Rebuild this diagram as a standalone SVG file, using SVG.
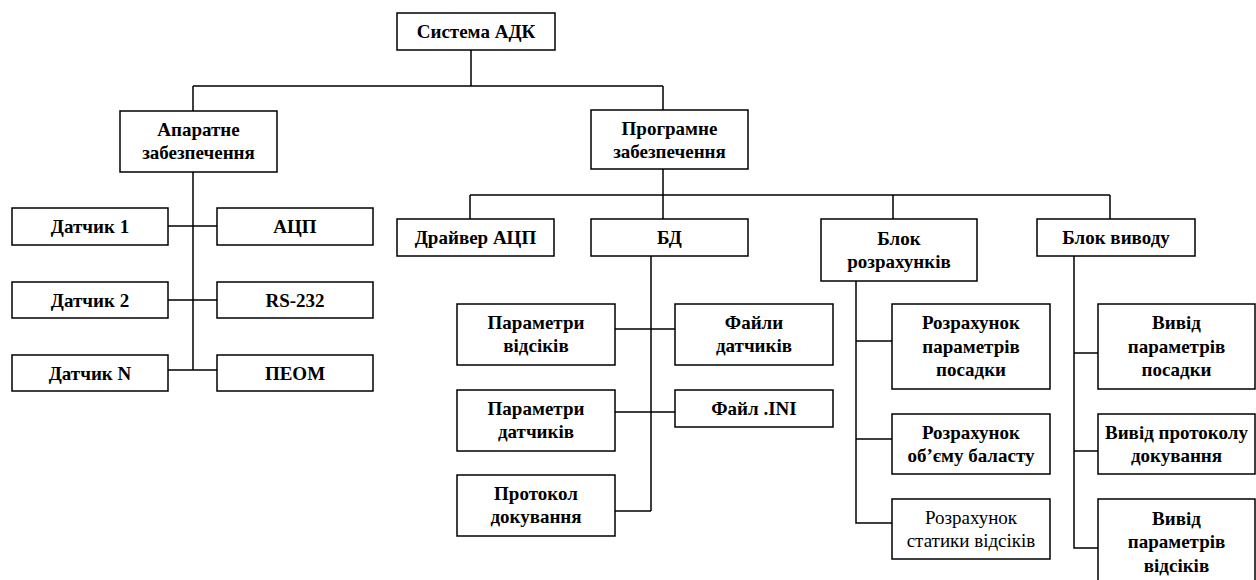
<svg xmlns="http://www.w3.org/2000/svg" width="1256" height="580" viewBox="0 0 1256 580">
<style>
rect{fill:#fff;stroke:#000;stroke-width:1.5}
text{font-family:"Liberation Serif","Times New Roman",serif;font-size:19px;font-weight:bold;text-anchor:middle;fill:#000}
text.r{font-weight:normal}
#connectors path{fill:none;stroke:#000;stroke-width:1.5}
</style>
<rect x="0" y="0" width="1256" height="580" style="stroke:none"/>
<g id="connectors">
<path d="M471 50V86M193 86H663M193 86V111M663 86V110"/>
<path d="M193 172V370M168 226H217M168 300H217M168 370H217"/>
<path d="M663 169V219M470 195H1110M470 195V219M893 195V219M1110 195V219"/>
<path d="M651 256V511M615 329H675M615 412H675M615 511H651"/>
<path d="M856 281V523H892M856 341H892M856 439H892"/>
<path d="M1074 256V548H1098M1074 353H1098M1074 451H1098"/>
</g>
<g id="n-system"><rect x="397" y="13" width="158" height="37"/><text x="476" y="38">Система АДК</text></g>
<g id="n-hw"><rect x="120" y="111" width="157" height="61"/><text x="198.5" y="136">Апаратне</text><text x="198.5" y="159">забезпечення</text></g>
<g id="n-sw"><rect x="591" y="110" width="157" height="59"/><text x="669.5" y="134.5">Програмне</text><text x="669.5" y="157.5">забезпечення</text></g>
<g id="n-d1"><rect x="12" y="208" width="156" height="37"/><text x="90" y="233">Датчик 1</text></g>
<g id="n-d2"><rect x="12" y="282" width="156" height="36"/><text x="90" y="306.5">Датчик 2</text></g>
<g id="n-dn"><rect x="12" y="355" width="156" height="36"/><text x="90" y="379.5">Датчик N</text></g>
<g id="n-adc"><rect x="217" y="208" width="156" height="37"/><text x="295" y="233">АЦП</text></g>
<g id="n-rs"><rect x="217" y="282" width="156" height="36"/><text x="295" y="306.5">RS-232</text></g>
<g id="n-pc"><rect x="217" y="355" width="156" height="36"/><text x="295" y="379.5">ПЕОМ</text></g>
<g id="n-drv"><rect x="397" y="219" width="157" height="37"/><text x="475.5" y="244">Драйвер АЦП</text></g>
<g id="n-db"><rect x="591" y="219" width="157" height="37"/><text x="669.5" y="244">БД</text></g>
<g id="n-calc"><rect x="821" y="219" width="156" height="62"/><text x="899" y="244.5">Блок</text><text x="899" y="267.5">розрахунків</text></g>
<g id="n-out"><rect x="1037" y="219" width="158" height="37"/><text x="1116" y="244">Блок виводу</text></g>
<g id="n-pv"><rect x="457" y="304" width="158" height="61"/><text x="536" y="328.5">Параметри</text><text x="536" y="351.5">відсіків</text></g>
<g id="n-pd"><rect x="457" y="390" width="158" height="61"/><text x="536" y="414.5">Параметри</text><text x="536" y="437.5">датчиків</text></g>
<g id="n-pk"><rect x="457" y="475" width="158" height="61"/><text x="536" y="499.5">Протокол</text><text x="536" y="522.5">докування</text></g>
<g id="n-fd"><rect x="675" y="304" width="158" height="61"/><text x="754" y="328.5">Файли</text><text x="754" y="351.5">датчиків</text></g>
<g id="n-ini"><rect x="675" y="390" width="158" height="37"/><text x="754" y="415">Файл .INI</text></g>
<g id="n-c1"><rect x="892" y="304" width="158" height="85"/><text x="971" y="329">Розрахунок</text><text x="971" y="352.5">параметрів</text><text x="971" y="376">посадки</text></g>
<g id="n-c2"><rect x="892" y="414" width="158" height="60"/><text x="971" y="438.5">Розрахунок</text><text x="971" y="461.5">об’єму баласту</text></g>
<g id="n-c3"><rect x="892" y="499" width="158" height="60"/><text class="r" x="971" y="523.5">Розрахунок</text><text class="r" x="971" y="546.5">статики відсіків</text></g>
<g id="n-o1"><rect x="1098" y="304" width="157" height="85"/><text x="1176.5" y="329">Вивід</text><text x="1176.5" y="352.5">параметрів</text><text x="1176.5" y="376">посадки</text></g>
<g id="n-o2"><rect x="1098" y="414" width="157" height="60"/><text x="1176.5" y="438.5">Вивід протоколу</text><text x="1176.5" y="461.5">докування</text></g>
<g id="n-o3"><rect x="1098" y="499" width="157" height="86"/><text x="1176.5" y="524.5">Вивід</text><text x="1176.5" y="548">параметрів</text><text x="1176.5" y="571.5">відсіків</text></g>
</svg>
